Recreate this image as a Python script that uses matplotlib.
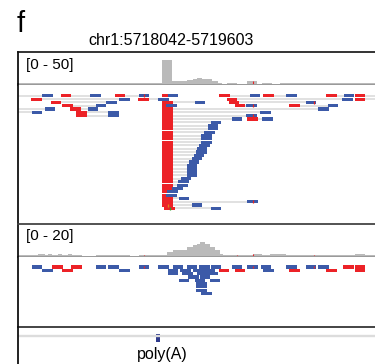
"""
IGV-style view of the chr1 poly(A) site (panel f).

Two coverage + read tracks and a feature track, drawn with matplotlib.
Positions are bp offsets from the start of the region.
"""

import matplotlib.pyplot as plt


REGION = "chr1:5718042-5719603"
REGION_LEN = 1562
READ_LEN = 46

# coverage, step edges (bp offset) and depth per step
COV1_EDGES = [0, 52, 96, 140, 184, 249, 280, 337, 416, 438, 534, 599, 630,
              674, 709, 739, 766, 783, 805, 827, 849, 875, 892, 914, 958,
              1002, 1046, 1068, 1111, 1146, 1234, 1343, 1378, 1474, 1518, 1562]
COV1_DEPTH = [2, 2, 3, 2, 2, 3, 2, 2, 3, 2, 2, 2, 38,
              6, 6, 7, 9, 10, 9, 8, 5, 3, 1, 3, 1,
              5, 1, 3, 1, 2, 2, 3, 2, 3, 2]
COV1_SCALE = 50
COV1_MM_POS = [958, 1028]
COV1_MM_DEPTH = [1, 5]

COV2_EDGES = [0, 87, 118, 131, 149, 175, 193, 219, 236, 280, 341, 490, 529,
              577, 652, 678, 739, 766, 783, 796, 818, 840, 862, 884, 897,
              958, 1028, 1068, 1102, 1172, 1221, 1474, 1518, 1562]
COV2_DEPTH = [1, 2, 1, 2, 1, 2, 1, 2, 1, 0, 1, 0,
              1, 1, 3, 4, 6, 7, 8, 9, 8, 6, 4, 2,
              1, 1, 2, 1, 2, 1, 1, 2, 1]
COV2_SCALE = 20
COV2_MM_POS = [551, 958, 1028, 1295]
COV2_MM_DEPTH = [1, 1, 2, 1]

# track 1: read pairs (red = forward mate, blue = reverse mate, None = off screen)
PAIR_ROW = [0, 0, 0, 0, 0, 0, 0, 0,
            1, 1, 1, 1,
            2, 2, 2,
            3, 3, 3, 3,
            4, 4, 4,
            5, 5, 5,
            6, 6,
            7, 7,
            8, 9, 10, 11, 12, 13, 14, 15, 16, 17, 18, 19, 20,
            21, 22, 23, 24, 25, 26, 27, 28, 29, 30, 31, 32, 33,
            34]
PAIR_RED = [None, 188, 424, 630, 880, 1072, 1348, 1474,
            57, 525, 914, 1474,
            144, 630, 923,
            193, 630, 949, 1186,
            None, 228, 630,
            None, 254, 630,
            254, 630,
            630, 1002,
            630, 630, 630, 630, 630, 630, 630, 630, 630, 630, 630, 630, 630,
            630, 630, 630, 630, 630, 630, 630, 630, 630, 630, 630, 630, 630,
            639]
PAIR_BLUE = [105, 315, 529, 656, 1015, 1173, 1426, None,
             442, 613, 1418, None,
             385, 774, 1260,
             341, 648, 998, 1356,
             118, 306, 1313,
             61, 394, 1059,
             394, 998,
             936, 1068,
             844, 831, 831, 814, 801, 801, 801, 792, 783, 779, 770, 761, 748,
             739, 739, 739, 739, 713, 700, 696, 674, 652, 648, 704, 1002, 761,
             844]

MM1_ROW = [0, 2, 3, 6, 32, 33, 34]
MM1_POS = [551, 1295, 1028, 1028, 1028, 656, 665]
MM1_BASE = ["T", "T", "T", "T", "T", "G", "A"]

# track 2: single reads
R2_ROW = [0] * 19 + [1] * 13 + [2] * 4 + [3] * 2 + [4] * 3 + [5, 6, 7, 8]
R2_START = [61, 149, 232, 341, 394, 529, 613, 678, 739, 792, 844, 936,
            1002, 1063, 1173, 1260, 1313, 1422, 1474,
            105, 193, 442, 656, 709, 766, 814, 879, 949, 1072, 1186, 1348, 1474,
            656, 718, 783, 827,
            744, 796,
            704, 774, 840,
            779, 779, 779, 801]
R2_STRAND = list("-++--------------+" "+") + list("-+-----++-+++") + list("----") \
    + list("--") + list("---") + list("----")

MM2_ROW = [0, 0, 0]
MM2_POS = [551, 1028, 1295]

POLYA_START = 605
POLYA_END = 621
POLYA_LABEL = "poly(A)"

RED = "#ec2227"
BLUE = "#3c5aa8"
COV_GREY = "#bababa"
BASE_COLORS = {"A": "#2ca02c", "C": "#1f3fbf", "G": "#e08a1a", "T": "#e8231f"}

W, H = 375, 364
ROW_PX = 3.31


def px_axes(fig, y0, y1, x0=18, x1=375):
    """Axes placed by pixel box (top-left origin)."""
    ax = fig.add_axes([x0 / W, 1 - y1 / H, (x1 - x0) / W, (y1 - y0) / H])
    ax.set_xlim(0, REGION_LEN)
    ax.set_xticks([])
    ax.set_yticks([])
    for side in ("top", "right", "bottom"):
        ax.spines[side].set_visible(False)
    ax.spines["left"].set_color("#111111")
    ax.spines["left"].set_linewidth(1.3)
    return ax


def set_rows(ax, y0, y1, first_row_px):
    ax.set_ylim((y1 - first_row_px) / ROW_PX, -(first_row_px - y0) / ROW_PX)


def draw_coverage(ax, edges, depth, scale, mm_pos, mm_depth, label, label_y):
    ax.set_ylim(0, scale)
    ax.stairs(depth, edges, fill=True, color=COV_GREY, linewidth=0)
    ax.vlines(mm_pos, 0, mm_depth, color=RED, linewidth=0.8)
    ax.axhline(0, color="#9a9a9a", linewidth=1.4)
    ax.text(8 / 357, label_y, label, fontsize=11, va="center", ha="left",
            transform=ax.transAxes)


def main() -> None:
    plt.rcParams["font.family"] = ["Liberation Sans", "DejaVu Sans"]
    fig = plt.figure(figsize=(W / 100, H / 100), dpi=100)

    fig.text(17 / W, 1 - 32 / H, "f", fontsize=21, ha="left", va="baseline")
    fig.text(171 / W, 1 - 45 / H, REGION, fontsize=11.5, ha="center",
             va="baseline")

    # coverage 1
    ax_cov1 = px_axes(fig, 52, 84.5)
    ax_cov1.spines["top"].set_visible(True)
    ax_cov1.spines["top"].set_color("#111111")
    ax_cov1.spines["top"].set_linewidth(1.2)
    draw_coverage(ax_cov1, COV1_EDGES, COV1_DEPTH, COV1_SCALE,
                  COV1_MM_POS, COV1_MM_DEPTH, "[0 - 50]", 1 - 13.5 / 32.5)

    # reads 1 (pairs)
    ax_r1 = px_axes(fig, 84.5, 224)
    set_rows(ax_r1, 84.5, 224, 95.8)
    for row, red, blue in zip(PAIR_ROW, PAIR_RED, PAIR_BLUE):
        left = 0 if red is None else red + READ_LEN
        right = REGION_LEN if blue is None else blue
        if right > left:
            ax_r1.hlines(row, left, right, color="#d8d8d8", linewidth=1.1)
    red_rows = [r for r, s in zip(PAIR_ROW, PAIR_RED) if s is not None]
    red_starts = [s for s in PAIR_RED if s is not None]
    blue_rows = [r for r, s in zip(PAIR_ROW, PAIR_BLUE) if s is not None]
    blue_starts = [s for s in PAIR_BLUE if s is not None]
    ax_r1.barh(red_rows, READ_LEN, left=red_starts, height=0.95, color=RED)
    ax_r1.barh(blue_rows, READ_LEN, left=blue_starts, height=0.95, color=BLUE)
    ax_r1.vlines(MM1_POS, [r - 0.45 for r in MM1_ROW],
                 [r + 0.45 for r in MM1_ROW],
                 color=[BASE_COLORS[b] for b in MM1_BASE], linewidth=0.9)

    # coverage 2
    ax_cov2 = px_axes(fig, 224, 257)
    ax_cov2.spines["top"].set_visible(True)
    ax_cov2.spines["top"].set_color("#444444")
    ax_cov2.spines["top"].set_linewidth(1.3)
    draw_coverage(ax_cov2, COV2_EDGES, COV2_DEPTH, COV2_SCALE,
                  COV2_MM_POS, COV2_MM_DEPTH, "[0 - 20]", 1 - 12 / 33)

    # reads 2
    ax_r2 = px_axes(fig, 257, 327)
    set_rows(ax_r2, 257, 327, 267)
    colors = [RED if s == "+" else BLUE for s in R2_STRAND]
    ax_r2.barh(R2_ROW, READ_LEN, left=R2_START, height=0.95, color=colors)
    ax_r2.vlines(MM2_POS, [r - 0.45 for r in MM2_ROW],
                 [r + 0.45 for r in MM2_ROW], color=RED, linewidth=0.9)

    # feature track
    ax_ft = px_axes(fig, 327, 364)
    ax_ft.set_ylim(37, 0)
    ax_ft.spines["top"].set_visible(True)
    ax_ft.spines["top"].set_color("#111111")
    ax_ft.spines["top"].set_linewidth(1.1)
    ax_ft.axhline(8.5, color="#dcdcdc", linewidth=1.7)
    ax_ft.barh(11, POLYA_END - POLYA_START, left=POLYA_START, height=7.5,
               color="#2e3a8c")
    ax_ft.text((POLYA_START + POLYA_END) / 2 + 17, 28, POLYA_LABEL,
               fontsize=11.5, ha="center", va="center")

    fig.savefig("out.png", dpi=100)


if __name__ == "__main__":
    main()
